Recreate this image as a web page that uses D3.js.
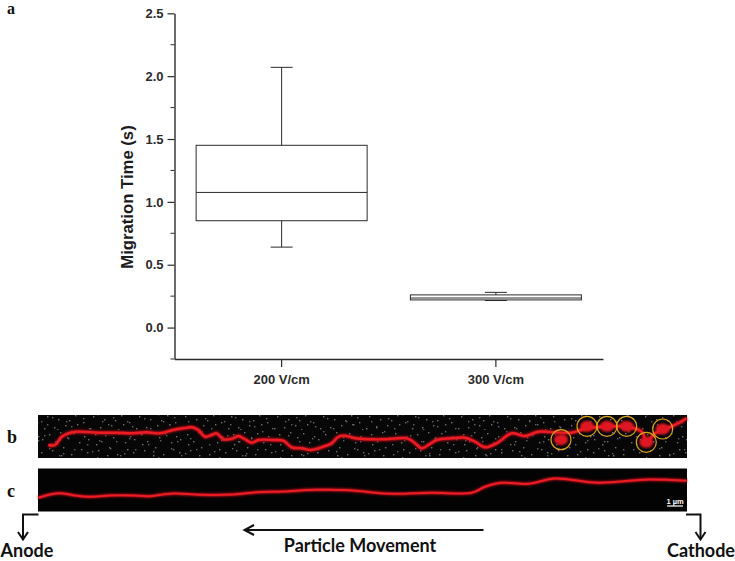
<!DOCTYPE html>
<html>
<head>
<meta charset="utf-8">
<script src="https://cdn.jsdelivr.net/npm/d3@7"></script>
<style>
html, body { margin: 0; padding: 0; background: #fff; }
svg { display: block; }
</style>
</head>
<body>
<svg id="fig" width="735" height="561"></svg>
<script>
// box plot values
const categories = ["200 V/cm", "300 V/cm"];
const whiskerLow = [0.64, 0.215];
const boxLow = [0.85, 0.22];
const medians = [1.075, 0.235];
const boxHigh = [1.45, 0.26];
const whiskerHigh = [2.07, 0.28];
const majorTicks = [0, 0.5, 1, 1.5, 2, 2.5];
const minorTicks = [-0.25, 0.25, 0.75, 1.25, 1.75, 2.25];

// fibre traces, in pixels of each micrograph
const traceBx = [10.3,17,23.7,30.3,38.7,62,78.7,95.3,108.7,122,135.3,145.3,153.7,160.3,167,173.7,178.7,185.3,195.3,200.3,207,213.7,220.3,235.3,245.3,253.7,263.7,273.7,283.7,293.7,300.3,307,317,332,347,368.7,375.3,383.7,390.3,398.7,413.7,427,437,447,458.7,473.7,487,500.3,517,533.7,548.7,568.7,588.7,603.7,608.7,617,627,640.3,648.7];
const traceBy = [30,30,21.7,18.3,16.7,17.7,17.7,18.3,17.3,18.3,15,13.3,12.3,15,21.7,20,18.3,24.3,23.3,21,24.3,27.7,25,25,25.7,32.3,33.3,35,32.3,28.3,21.7,20.7,23.3,24.3,24.3,23.3,26.7,33.3,30,25,23.3,22.7,26.7,32.3,28.3,18.3,21,16.7,17.3,17.7,13.3,11.7,11.7,16.7,26.7,18.3,14.3,8.3,3.3];
const traceCx = [0.3,12,22,35.3,50.3,72,95.3,110.3,135.3,162,195.3,218.7,245.3,278.7,312,332,353.7,393.7,433.7,447,463.7,490.3,517,560.3,610.3,648.7];
const traceCy = [29.3,26,24.7,26.7,28.3,27,27,27.7,25,26.3,26,23.7,23,21.3,21.7,23.7,25.3,24.3,24.3,18.3,14.3,15.3,10,14.3,11,12.3];
// particles circled in b
const particleX = [523,549,569,588.7,608.3,624.7];
const particleY = [24.7,11.3,11.3,11.3,27.3,14];
// background speckle of b, one tile each
const speckleX = [3,9,14,21,27,33,38,6,17,25,35,1,12,29,41,19,8,37,23,44,4,31,15,42];
const speckleY = [4,11,2,7,3,12,6,20,17,24,19,29,32,28,22,38,40,35,33,41,14,37,25,9];
const speckleX2 = [7,18,26,44,55,2,13,36,49,59,22,31,41,52,10,28,47,57,5,38];
const speckleY2 = [8,1,14,5,11,23,19,27,18,25,31,21,34,30,39,41,37,42,34,10];

const svg = d3.select("#fig");

// ---- panel a
const y = d3.scaleLinear().domain([-0.25, 2.5]).range([359, 13.3]);
const x = d3.scaleBand().domain(categories).range([174.5, 603]).paddingInner(0);
const boxW = 171;
const ink = "#2b2b2b";
const centre = c => x(c) + x.bandwidth() / 2;

const a = svg.append("g");
const yAxis = d3.axisLeft(y).tickValues(majorTicks).tickFormat(d3.format(".1f")).tickSize(7).tickSizeOuter(0).tickPadding(4);
const gy = a.append("g").attr("transform", "translate(174.5,0)").call(yAxis);
gy.append("g").selectAll("line").data(minorTicks).join("line")
    .attr("x1", -4).attr("x2", 0)
    .attr("y1", d => y(d)).attr("y2", d => y(d))
    .attr("stroke", ink);
const xAxis = d3.axisBottom(x).tickSize(8).tickSizeOuter(0).tickPadding(8);
a.append("g").attr("transform", "translate(0,359)").call(xAxis);
a.selectAll(".domain").attr("stroke", ink).attr("stroke-width", 1.4);
a.selectAll(".tick line").attr("stroke", ink).attr("stroke-width", 1.2);
a.selectAll(".tick text")
    .attr("fill", ink)
    .style("font", "bold 13px 'Liberation Sans'");

a.append("text")
    .attr("transform", "translate(133,197) rotate(-90)")
    .attr("text-anchor", "middle")
    .attr("fill", "#1c1c1c")
    .style("font", "bold 16.7px 'Liberation Sans'")
    .text("Migration Time (s)");

categories.forEach(function (c, i) {
    let g = a.append("g").attr("fill", "none").attr("stroke", ink).attr("stroke-width", 1);
    let cx = centre(c);
    g.append("line").attr("x1", cx).attr("x2", cx).attr("y1", y(whiskerHigh[i])).attr("y2", y(boxHigh[i]));
    g.append("line").attr("x1", cx).attr("x2", cx).attr("y1", y(boxLow[i])).attr("y2", y(whiskerLow[i]));
    [whiskerHigh[i], whiskerLow[i]].forEach(function (v) {
        g.append("line").attr("x1", cx - 11).attr("x2", cx + 11).attr("y1", y(v)).attr("y2", y(v));
    });
    g.append("rect")
        .attr("x", cx - boxW / 2).attr("width", boxW)
        .attr("y", y(boxHigh[i])).attr("height", y(boxLow[i]) - y(boxHigh[i]));
    g.append("line").attr("x1", cx - boxW / 2).attr("x2", cx + boxW / 2).attr("y1", y(medians[i])).attr("y2", y(medians[i]));
});

// ---- micrographs b and c
const panelX = d3.scaleLinear().domain([0, 649]).range([38, 687]);
const panelBy = d3.scaleLinear().domain([0, 43]).range([415, 458]);
const panelCy = d3.scaleLinear().domain([0, 43]).range([468.5, 511.5]);

const defs = svg.append("defs");
defs.append("filter").attr("id", "glow").append("feGaussianBlur").attr("stdDeviation", 1.1);
defs.append("filter").attr("id", "soft").append("feGaussianBlur").attr("stdDeviation", 0.5);

function speckleTile(id, w, xs, ys, colour) {
    let tile = defs.append("pattern").attr("id", id).attr("patternUnits", "userSpaceOnUse")
        .attr("width", w).attr("height", 43);
    tile.selectAll("rect").data(xs).join("rect")
        .attr("x", d => d).attr("y", (d, i) => ys[i])
        .attr("width", 1.4).attr("height", 1.4)
        .attr("fill", colour);
}
speckleTile("speckle", 46, speckleX, speckleY, "#6f6f6f");
speckleTile("speckle2", 61, speckleX2, speckleY2, "#5d646c");

function drawPanel(py, xs, ys, wide, thin, core) {
    let line = d3.line().x(d => panelX(d)).y((d, i) => py(ys[i])).curve(d3.curveCatmullRom.alpha(0.5));
    let g = svg.append("g");
    g.append("path").attr("d", line(xs)).attr("fill", "none").attr("stroke", "#b0101a")
        .attr("stroke-width", wide).attr("filter", "url(#glow)");
    g.append("path").attr("d", line(xs)).attr("fill", "none").attr("stroke", core)
        .attr("stroke-width", thin).attr("stroke-linejoin", "round").attr("filter", "url(#soft)");
}

svg.append("rect").attr("x", 38).attr("y", 415).attr("width", 649).attr("height", 43).attr("fill", "#070707");
["speckle", "speckle2"].forEach(function (id) {
    svg.append("rect").attr("x", 38).attr("y", 415).attr("width", 649).attr("height", 43)
        .attr("fill", "url(#" + id + ")").attr("filter", "url(#soft)");
});
svg.append("rect").attr("x", 38).attr("y", 468.5).attr("width", 649).attr("height", 43).attr("fill", "#030303");

drawPanel(panelBy, traceBx, traceBy, 4, 2.4, "#ee1c24");
drawPanel(panelCy, traceCx, traceCy, 3.4, 2, "#ee1c24");

particleX.forEach(function (px, i) {
    svg.append("ellipse").attr("cx", panelX(px)).attr("cy", panelBy(particleY[i])).attr("rx", 7).attr("ry", 5.5)
        .attr("fill", "#e01822").attr("filter", "url(#glow)");
    svg.append("circle").attr("cx", panelX(px)).attr("cy", panelBy(particleY[i])).attr("r", 10)
        .attr("fill", "none").attr("stroke", "#d9a41c").attr("stroke-width", 1.2);
});

// scale bar
svg.append("line").attr("x1", panelX(629)).attr("x2", panelX(645)).attr("y1", 506).attr("y2", 506)
    .attr("stroke", "#fff").attr("stroke-width", 1.2);
svg.append("text").attr("x", panelX(637)).attr("y", 503.5).attr("text-anchor", "middle").attr("fill", "#fff")
    .style("font", "bold 7.5px 'Liberation Sans'").text("1 µm");

// panel letters
const letters = [["a", 7, 14.2, 16], ["b", 7, 443, 18], ["c", 7, 497, 18]];
letters.forEach(function (l) {
    svg.append("text").attr("x", l[1]).attr("y", l[2])
        .attr("fill", "#111")
        .style("font", "bold " + l[3] + "px 'Liberation Serif'").text(l[0]);
});

// electrodes and movement arrow
function arrowPath(d) {
    svg.append("path").attr("d", d).attr("fill", "none").attr("stroke", "#111").attr("stroke-width", 2);
}
arrowPath("M38.5,514.5H23V539");
arrowPath("M18,532L23,539.5L28,532");
arrowPath("M686,514.5H700.5V539");
arrowPath("M695.5,532L700.5,539.5L705.5,532");
arrowPath("M483.5,530H245");
arrowPath("M254,525L244.5,530L254,535");

const captions = [["Anode", 27, 557], ["Particle Movement", 360, 551.5], ["Cathode", 701, 557]];
captions.forEach(function (c) {
    svg.append("text").attr("x", c[1]).attr("y", c[2]).attr("text-anchor", "middle")
        .attr("fill", "#111")
        .style("font", "bold 18px Lato").text(c[0]);
});
</script>
</body>
</html>
